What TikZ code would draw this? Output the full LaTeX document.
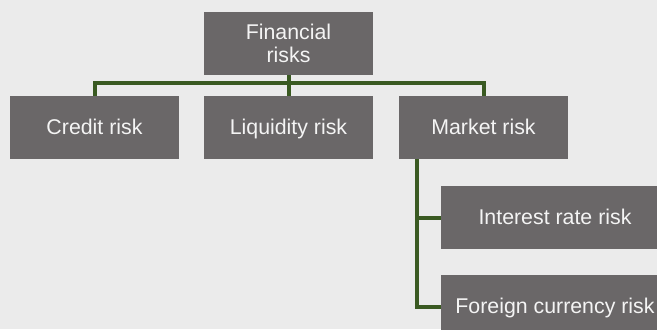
\documentclass[tikz,border=0pt]{standalone}
\usepackage{fontspec}
\setmainfont{Liberation Sans}
\begin{document}
\begin{tikzpicture}[x=0.75pt,y=-0.75pt,
  riskbox/.style={rectangle, fill=boxgray, text=boxtext, minimum width=169*0.75pt,
    minimum height=63*0.75pt, inner sep=0pt, align=center,
    font=\fontsize{16pt}{17pt}\selectfont},
  oneline/.style={text height=12pt, text depth=1.8pt},
  conn/.style={draw=linkgreen, line width=3pt}]
\definecolor{bggray}{HTML}{EBEBEB}
\definecolor{boxgray}{HTML}{6A6768}
\definecolor{boxtext}{HTML}{F4F4F4}
\definecolor{linkgreen}{HTML}{3A5A22}
\useasboundingbox (0,0) rectangle (657,329);
\clip (0,0) rectangle (657,329);
\fill[bggray] (0,0) rectangle (657,329);

% top level
\node[riskbox] (fin) at (288.5,43.5) {Financial\\risks};
% second level
\node[riskbox, oneline] (credit) at (94.5,127.5) {Credit risk};
\node[riskbox, oneline] (liq) at (288.5,127.5) {Liquidity risk};
\node[riskbox, oneline] (market) at (483.5,127.5) {Market risk};
% market risk sub-types
\node[riskbox, oneline, minimum width=228*0.75pt] (interest) at (555,217.5) {Interest rate risk};
\node[riskbox, oneline, minimum width=228*0.75pt] (foreign) at (555,306.5) {Foreign currency risk};

% connectors
\coordinate (bus) at (288.5,83);
\coordinate (trunk) at (416.5,159);
\draw[conn] (credit.north) |- (bus) -| (market.north);
\draw[conn] (fin.south) -- (liq.north);
\draw[conn] (trunk) |- (foreign.west);
\draw[conn] (trunk |- interest.west) -- (interest.west);
\end{tikzpicture}
\end{document}
